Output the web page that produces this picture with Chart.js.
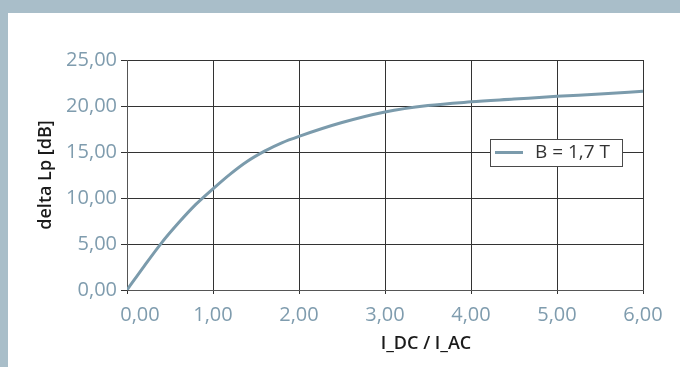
<!DOCTYPE html>
<html>
<head>
<meta charset="utf-8">
<script src="https://cdn.jsdelivr.net/npm/chart.js@4"></script>
<style>
    html, body { margin: 0; padding: 0; }
    body { width: 680px; height: 367px; background: #a9bec9; position: relative; overflow: hidden; }
    .card { position: absolute; left: 8px; top: 13px; right: 0; bottom: 0; background: #ffffff; }
    #lpChart { position: absolute; left: 0; top: 0; }
</style>
</head>
<body>
<div class="card"></div>
<canvas id="lpChart" width="680" height="367"></canvas>
<script>
// Data
const ratioValues = [0, 0.2, 0.4, 0.6, 0.8, 1.0, 1.2, 1.4, 1.6, 1.8, 2.0, 2.5, 3.0, 3.5, 4.0, 4.5, 5.0, 5.5, 6.0];
const lpValues = [0, 2.6, 5.1, 7.3, 9.3, 11.0, 12.6, 14.0, 15.1, 16.0, 16.7, 18.2, 19.35, 20.05, 20.45, 20.75, 21.05, 21.3, 21.6];
const seriesLabel = 'B = 1,7 T';
const xTicks = [0, 1, 2, 3, 4, 5, 6];
const yTicks = [0, 5, 10, 15, 20, 25];
const xTitle = 'I_DC / I_AC';
const yTitle = 'delta Lp [dB]';

const lineColor = '#7b9bac';
const tickColor = '#7f9cae';
const gridColor = '#333333';

function formatComma(v) {
    return v.toFixed(2).replace('.', ',');
}

// draws the boxed legend inside the plot and the x axis title
const extrasPlugin = {
    id: 'extras',
    afterDraw: function(chart) {
        const ctx = chart.ctx;
        const area = chart.chartArea;
        const ds = chart.data.datasets[0];

        // legend box
        const bx = area.right - 153, by = area.top + 79, bw = 132, bh = 27;
        ctx.save();
        ctx.fillStyle = '#ffffff';
        ctx.fillRect(bx, by, bw, bh);
        ctx.strokeStyle = '#4a4a4a';
        ctx.lineWidth = 1;
        ctx.strokeRect(bx + 0.5, by + 0.5, bw, bh);
        ctx.strokeStyle = ds.borderColor;
        ctx.lineWidth = 3;
        ctx.beginPath();
        ctx.moveTo(bx + 5, by + 13.5);
        ctx.lineTo(bx + 33, by + 13.5);
        ctx.stroke();
        ctx.fillStyle = '#333333';
        ctx.font = "19px 'Open Sans'";
        ctx.textBaseline = 'middle';
        ctx.textAlign = 'left';
        ctx.fillText(ds.label, bx + 45, by + 14);

        // x axis title
        ctx.fillStyle = '#1a1a1a';
        ctx.font = "600 18px 'Open Sans'";
        ctx.textAlign = 'center';
        ctx.fillText(xTitle, area.left + 299, 344);
        ctx.restore();
    }
};

function initializeLpChart() {
    const canvas = document.getElementById('lpChart');
    if (!canvas) return;

    Chart.defaults.font.family = "'Open Sans', sans-serif";

    new Chart(canvas, {
        type: 'line',
        data: {
            datasets: [{
                label: seriesLabel,
                data: ratioValues.map(function(x, i) { return { x: x, y: lpValues[i] }; }),
                borderColor: lineColor,
                borderWidth: 3,
                pointRadius: 0,
                cubicInterpolationMode: 'monotone',
                fill: false
            }]
        },
        options: {
            responsive: false,
            animation: false,
            devicePixelRatio: 1,
            layout: {
                padding: { top: 60, right: 37, bottom: 0, left: 0 }
            },
            scales: {
                x: {
                    type: 'linear',
                    min: 0,
                    max: 6,
                    afterFit: function(scale) { scale.height = 77; },
                    afterBuildTicks: function(scale) {
                        scale.ticks = xTicks.map(function(v) { return { value: v }; });
                    },
                    grid: { color: gridColor, lineWidth: 1, tickLength: 4 },
                    border: { color: '#555555' },
                    ticks: {
                        color: tickColor,
                        font: { size: 20 },
                        padding: 9,
                        maxRotation: 0,
                        callback: function(value) {
                            // first label sits a little right of the axis in the original
                            return value === 0 ? '     ' + formatComma(value) : formatComma(value);
                        }
                    }
                },
                y: {
                    min: 0,
                    max: 25,
                    afterFit: function(scale) { scale.width = 127; },
                    afterBuildTicks: function(scale) {
                        scale.ticks = yTicks.map(function(v) { return { value: v }; });
                    },
                    grid: { color: gridColor, lineWidth: 1, tickLength: 6 },
                    border: { color: '#555555' },
                    ticks: {
                        color: tickColor,
                        font: { size: 20 },
                        padding: 4,
                        callback: function(value) { return formatComma(value); }
                    },
                    title: {
                        display: true,
                        text: yTitle,
                        color: '#1a1a1a',
                        font: { size: 18, weight: '600' },
                        padding: { top: 35, bottom: 0 }
                    }
                }
            },
            plugins: {
                legend: { display: false },
                tooltip: { enabled: false }
            }
        },
        plugins: [extrasPlugin]
    });
}

document.addEventListener('DOMContentLoaded', function() {
    initializeLpChart();
});
</script>
</body>
</html>
